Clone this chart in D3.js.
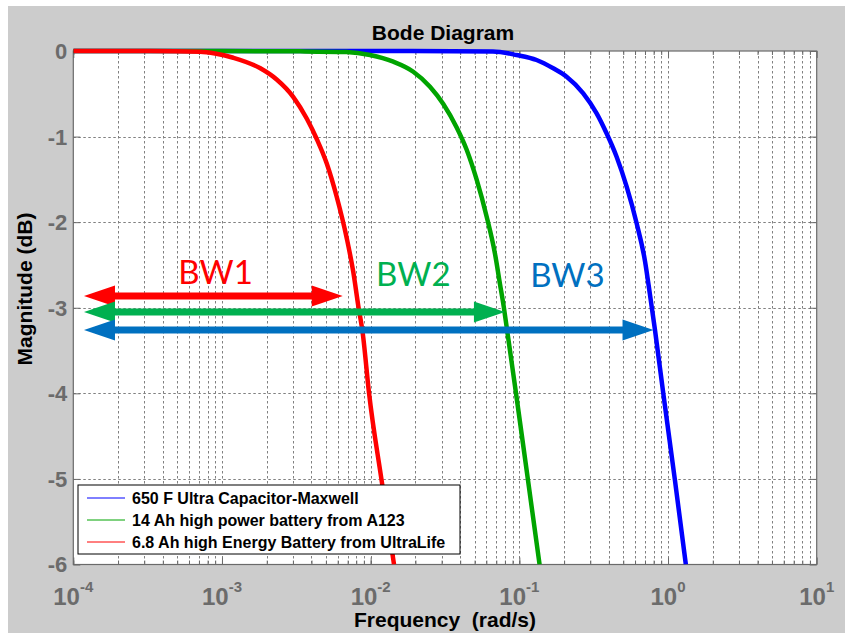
<!DOCTYPE html>
<html>
<head>
<meta charset="utf-8">
<script src="https://cdn.jsdelivr.net/npm/d3@7"></script>
<style>
  body { margin: 0; background: #fff; }
  svg { display: block; }
</style>
</head>
<body>
<svg id="chart"></svg>
<script>
// decades shown on the frequency axis (powers of ten)
var decades = [-4, -3, -2, -1, 0, 1];
var magTicks = [0, -1, -2, -3, -4, -5, -6];

// 650 F Ultra Capacitor-Maxwell (blue)
var capFreq = [0.0001, 0.01, 0.0664, 0.0959, 0.1306, 0.169, 0.208, 0.269, 0.331, 0.386, 0.451, 0.527, 0.615, 0.700, 0.755, 0.817, 0.929, 1.112, 1.318];
var capMag  = [0, 0, -0.005, -0.047, -0.105, -0.202, -0.300, -0.494, -0.728, -0.961, -1.235, -1.585, -2.013, -2.454, -2.839, -3.259, -4.0, -5.01, -6.0];

// 14 Ah high power battery from A123 (green)
var powFreq = [0.0001, 0.001, 0.00335, 0.0069, 0.00991, 0.0142, 0.01935, 0.02506, 0.0308, 0.0379, 0.0443, 0.0517, 0.0603, 0.0685, 0.0741, 0.0786, 0.0827, 0.095, 0.1143, 0.1368];
var powMag  = [0, 0, -0.004, -0.012, -0.047, -0.125, -0.242, -0.417, -0.619, -0.894, -1.157, -1.507, -1.936, -2.364, -2.723, -2.991, -3.26, -4.0, -5.013, -6.0];

// 6.8 Ah high Energy Battery from UltraLife (red)
var engFreq = [0.0001, 0.000328, 0.000711, 0.000897, 0.001191, 0.001799, 0.002333, 0.00302, 0.003715, 0.00434, 0.00506, 0.00591, 0.0069, 0.00764, 0.00826, 0.00884, 0.00975, 0.01192, 0.01436];
var engMag  = [0, 0, -0.009, -0.029, -0.079, -0.199, -0.333, -0.538, -0.789, -1.028, -1.312, -1.703, -2.185, -2.582, -2.98, -3.295, -3.996, -5.048, -6.0];

var legendLabels = ["650 F Ultra Capacitor-Maxwell", "14 Ah high power battery from A123", "6.8 Ah high Energy Battery from UltraLife"];

// bandwidth arrows: left end, right end (-3 dB point), level, label position
var bwLabels = ["BW1", "BW2", "BW3"];
var bwStart = [0.000118, 0.000118, 0.000118];
var bwEnd   = [0.00649, 0.0800, 0.799];
var bwLevel = [-2.863, -3.05, -3.26];
var bwTextFreq = [0.000509, 0.01088, 0.1183];
var bwTextMag  = [-2.72, -2.75, -2.76];

(function() {
var width = 845, height = 635;
var pLeft = 73.3, pRight = 816.7, pTop = 51, pBottom = 564.5;
var axisFont = "'Liberation Sans', Arial, sans-serif";

var svg = d3.select("#chart").attr("width", width).attr("height", height);

svg.append("rect").attr("x", 8).attr("y", 6).attr("width", width - 8).attr("height", 627).style("fill", "#cccccc");
svg.append("rect").attr("x", pLeft).attr("y", pTop).attr("width", pRight - pLeft).attr("height", pBottom - pTop).style("fill", "#fff");

var x = d3.scaleLog().domain([1e-4, 10]).range([pLeft, pRight]);
var y = d3.scaleLinear().domain([-6, 0]).range([pBottom, pTop]);

// minor + major log ticks
var logTicks = [];
for (var i = 0; i < decades.length - 1; i++) {
	for (var k = 1; k <= 9; k++) {
		logTicks.push(k * Math.pow(10, decades[i]));
	}
}
var majorTicks = decades.map(function(d) { return Math.pow(10, d); });

// GRID
var grid = svg.append("g").attr("class", "grid")
	.style("stroke", "#808080").style("stroke-width", 1).style("stroke-dasharray", "2.5,2.5");
grid.selectAll("line.vx").data(logTicks.filter(function(d) { return d > 1e-4; }))
	.enter().append("line")
	.attr("x1", function(d) { return Math.round(x(d)) + 0.5; })
	.attr("x2", function(d) { return Math.round(x(d)) + 0.5; })
	.attr("y1", pTop).attr("y2", pBottom);
grid.selectAll("line.hy").data(magTicks.filter(function(d) { return d < 0 && d > -6; }))
	.enter().append("line")
	.attr("y1", function(d) { return Math.round(y(d)) + 0.5; })
	.attr("y2", function(d) { return Math.round(y(d)) + 0.5; })
	.attr("x1", pLeft).attr("x2", pRight);

// AXES (ticks pointing inward, box on)
function styleAxis(g) {
	g.select(".domain").remove();
	g.selectAll("line").style("stroke", "#6a6a6a");
	g.selectAll("text").remove();
}
svg.append("g").attr("transform", "translate(0," + pBottom + ")")
	.call(d3.axisBottom(x).tickValues(logTicks).tickSize(-4).tickFormat("")).call(styleAxis);
svg.append("g").attr("transform", "translate(0," + pBottom + ")")
	.call(d3.axisBottom(x).tickValues(majorTicks).tickSize(-7).tickFormat("")).call(styleAxis);
svg.append("g").attr("transform", "translate(0," + pTop + ")")
	.call(d3.axisTop(x).tickValues(logTicks).tickSize(-4).tickFormat("")).call(styleAxis);
svg.append("g").attr("transform", "translate(0," + pTop + ")")
	.call(d3.axisTop(x).tickValues(majorTicks).tickSize(-7).tickFormat("")).call(styleAxis);
svg.append("g").attr("transform", "translate(" + pLeft + ",0)")
	.call(d3.axisLeft(y).tickValues(magTicks).tickSize(-7).tickFormat("")).call(styleAxis);
svg.append("g").attr("transform", "translate(" + pRight + ",0)")
	.call(d3.axisRight(y).tickValues(magTicks).tickSize(-7).tickFormat("")).call(styleAxis);

svg.append("rect").attr("x", pLeft).attr("y", pTop).attr("width", pRight - pLeft).attr("height", pBottom - pTop)
	.style("fill", "none").style("stroke", "#6a6a6a").style("stroke-width", 1.2);

// tick labels
svg.selectAll("text.ylab").data(magTicks).enter().append("text")
	.attr("x", pLeft - 6).attr("y", function(d) { return y(d); })
	.attr("dy", "0.36em").attr("text-anchor", "end")
	.style("font-family", axisFont).style("font-weight", "bold")
	.style("font-size", "22px").style("fill", "#6b6b6b")
	.text(function(d) { return d; });

var xl = svg.selectAll("text.xlab").data(decades).enter().append("text")
	.attr("x", function(d) { return x(Math.pow(10, d)); }).attr("y", 605)
	.attr("text-anchor", "middle")
	.style("font-family", axisFont).style("font-weight", "bold")
	.style("fill", "#6b6b6b");
xl.append("tspan").style("font-size", "24px").text("10");
xl.append("tspan").attr("dy", -13).style("font-size", "15px").text(function(d) { return d; });

// titles
svg.append("text").attr("x", 443).attr("y", 40).attr("text-anchor", "middle")
	.style("font-family", axisFont).style("font-weight", "bold")
	.style("font-size", "21px").text("Bode Diagram");
svg.append("text").attr("x", 445).attr("y", 627).attr("text-anchor", "middle")
	.style("font-family", axisFont).style("font-weight", "bold")
	.style("font-size", "21px").style("white-space", "pre").text("Frequency  (rad/s)");
svg.append("text").attr("transform", "translate(32,289) rotate(-90)").attr("text-anchor", "middle")
	.style("font-family", axisFont).style("font-weight", "bold")
	.style("font-size", "21px").text("Magnitude (dB)");

// CURVES
svg.append("clipPath").attr("id", "plotclip").append("rect")
	.attr("x", pLeft).attr("y", pTop - 3).attr("width", pRight - pLeft).attr("height", pBottom - pTop + 3);

var line = d3.line()
	.x(function(d) { return x(d[0]); })
	.y(function(d) { return y(d[1]); })
	.curve(d3.curveMonotoneX);

var series = [
	{ freq: capFreq, mag: capMag, color: "#0000ff" },
	{ freq: powFreq, mag: powMag, color: "#00a400" },
	{ freq: engFreq, mag: engMag, color: "#ff0000" }
];

var curves = svg.append("g").attr("clip-path", "url(#plotclip)");
series.forEach(function(s) {
	curves.append("path")
		.datum(d3.zip(s.freq, s.mag))
		.attr("d", line)
		.style("fill", "none").style("stroke", s.color).style("stroke-width", 4.5)
		.style("stroke-linejoin", "round");
});

// BANDWIDTH ARROWS
var bwColors = ["#ff0000", "#00b050", "#0070c0"];
function arrowPath(x0, x1, yc) {
	var hl = 31, hw = 10.5, sw = 3.5;
	return "M" + x0 + "," + yc +
		"L" + (x0 + hl) + "," + (yc - hw) +
		"L" + (x0 + hl) + "," + (yc - sw) +
		"L" + (x1 - hl) + "," + (yc - sw) +
		"L" + (x1 - hl) + "," + (yc - hw) +
		"L" + x1 + "," + yc +
		"L" + (x1 - hl) + "," + (yc + hw) +
		"L" + (x1 - hl) + "," + (yc + sw) +
		"L" + (x0 + hl) + "," + (yc + sw) +
		"L" + (x0 + hl) + "," + (yc + hw) + "Z";
}
bwLabels.forEach(function(lbl, i) {
	svg.append("path")
		.attr("d", arrowPath(x(bwStart[i]), x(bwEnd[i]), y(bwLevel[i])))
		.style("fill", bwColors[i]);
	svg.append("text")
		.attr("x", x(bwTextFreq[i])).attr("y", y(bwTextMag[i]))
		.style("font-family", "Lato, 'Open Sans', sans-serif")
		.style("font-size", "33px").style("fill", bwColors[i])
		.text(lbl);
});

// LEGEND
var legend = svg.append("g").attr("transform", "translate(78,485)");
legend.append("rect").attr("width", 382).attr("height", 69)
	.style("fill", "#fff").style("stroke", "#000").style("stroke-width", 1);
var legColors = ["#0000ff", "#00a400", "#ff0000"];
legendLabels.forEach(function(lbl, i) {
	var ly = 13 + i * 22;
	legend.append("line").attr("x1", 9).attr("x2", 47).attr("y1", ly).attr("y2", ly)
		.style("stroke", legColors[i]).style("stroke-width", 1);
	legend.append("text").attr("x", 54).attr("y", ly).attr("dy", "0.36em")
		.style("font-family", axisFont).style("font-weight", "bold")
		.style("font-size", "16px").style("fill", "#000")
		.text(lbl);
});
})();
</script>
</body>
</html>
